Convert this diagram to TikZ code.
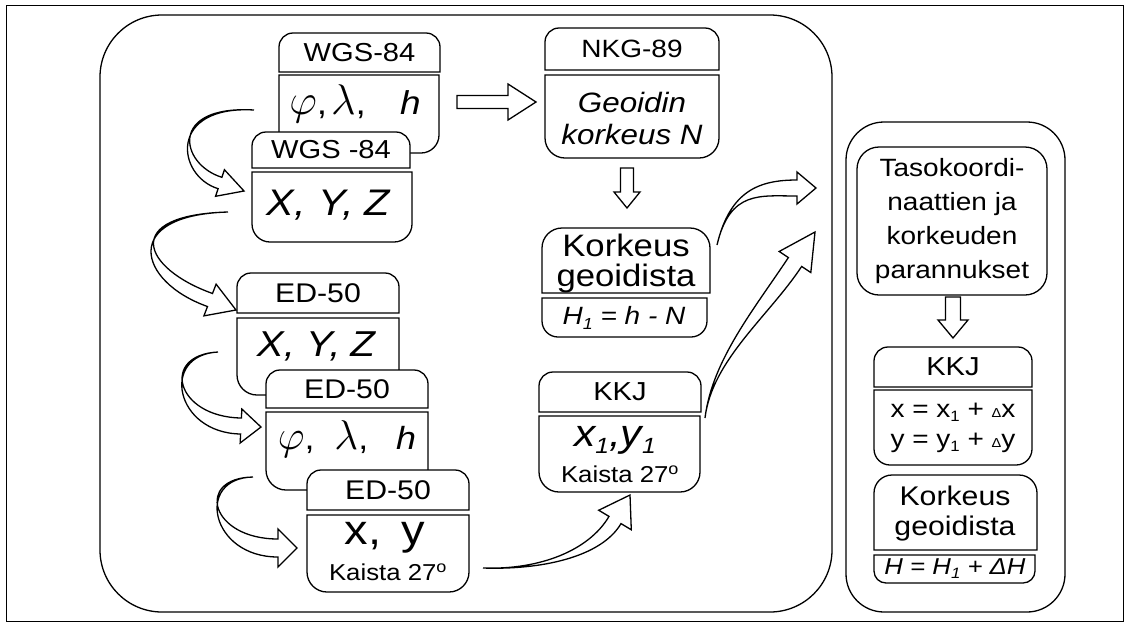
\RequirePackage{fix-cm}
\documentclass[tikz,border=0pt]{standalone}
\usepackage{fontspec}
\setmainfont{Liberation Sans}[FakeStretch=1.12]
\usetikzlibrary{calc}
\newcommand\fsz[1]{\fontsize{#1}{#1}\selectfont}
\newcommand\fszb[2]{\fontsize{#1}{#2}\selectfont}
\newcommand\gphi{\scalebox{1.3}{$\varphi$}}
\newcommand\glam{\scalebox{1.3}{$\lambda$}}
% top-rounded box: x1 y1 x2 y2 r  (pixel coords, y downwards)
\newcommand\mkhead[5]{\draw[fill=white] (#1,-#4) -- (#1,-#2-#5) arc[start angle=180,end angle=90,radius=#5] -- (#3-#5,-#2) arc[start angle=90,end angle=0,radius=#5] -- (#3,-#4) -- cycle;}
% bottom-rounded box
\newcommand\mkbody[5]{\draw[fill=white] (#1,-#2) -- (#3,-#2) -- (#3,-#4+#5) arc[start angle=0,end angle=-90,radius=#5] -- (#1+#5,-#4) arc[start angle=270,end angle=180,radius=#5] -- cycle;}
% curved hollow arrow: tail, c1, c2, base, tip, shaft half width, head half width
\newcommand\curvearr[7]{%
  \coordinate (ca1) at ($(#4)!#6!90:(#5)$);
  \coordinate (ca2) at ($(#4)!#6!-90:(#5)$);
  \coordinate (ch1) at ($(#4)!#7!90:(#5)$);
  \coordinate (ch2) at ($(#4)!#7!-90:(#5)$);
  \draw[fill=white,line join=miter] (#1) .. controls (#2) and ($(#3)+(ca1)-(#4)$) .. (ca1) -- (ch1) -- (#5) -- (ch2) -- (ca2) .. controls ($(#3)+(ca2)-(#4)$) and (#2) .. (#1) -- cycle;}
% straight block arrow: from, to, shaft half, head half, head length
\newcommand\blockarr[5]{%
  \coordinate (bab) at ($(#2)!#5!(#1)$);
  \draw[fill=white,line join=miter] ($(#1)!#3!90:(#2)$) -- ($(bab)!#3!-90:(#1)$) -- ($(bab)!#4!-90:(#1)$) -- (#2) -- ($(bab)!#4!90:(#1)$) -- ($(bab)!#3!90:(#1)$) -- ($(#1)!#3!-90:(#2)$) -- cycle;}
\begin{document}
\begin{tikzpicture}[x=1pt,y=1pt,line width=1.3pt,lbl/.style={inner sep=0pt,align=center}]
\useasboundingbox (0,0) rectangle (1129,-630);
\draw[line width=1pt] (6,-5) rectangle (1123,-621);
\draw[rounded corners=62pt] (100,-15) rectangle (832,-612);
\draw[rounded corners=38pt] (846,-122) rectangle (1065,-612);

% ---- left column ----
\mkhead{279}{33}{440}{72}{14}
\node[lbl,font=\fsz{26}] (wgs1h) at (359.5,-53) {WGS-84};
\mkbody{279}{75}{439}{153}{18}
\node[lbl,font=\fsz{33}] (wgs1b) at (355,-104) {\gphi,\hspace{4pt}\glam,\hspace{34pt}\itshape h};

\mkhead{252}{132}{410}{168}{14}
\node[lbl,font=\fsz{26}] (wgs2h) at (331,-150) {WGS -84};
\mkbody{252}{172}{412}{242}{18}
\node[lbl,font={\fsz{37}\itshape}] (wgs2b) at (328,-205) {X,\hspace{13pt}Y,\hspace{10pt}Z};

\mkhead{237}{273}{399}{313}{14}
\node[lbl,font=\fsz{27}] (ed1h) at (318,-293) {ED-50};
\mkbody{237}{318}{399}{395}{20}
\node[lbl,font={\fsz{36}\itshape}] (ed1b) at (316,-346) {X,\hspace{11pt}Y,\hspace{10pt}Z};

\mkhead{266}{370}{428}{408}{14}
\node[lbl,font=\fsz{27}] (ed2h) at (347,-389) {ED-50};
\mkbody{266}{412}{428}{490}{20}
\node[lbl,font=\fsz{32}] (ed2b) at (347,-439) {\gphi,\hspace{20pt}\glam,\hspace{28pt}\itshape h};

\mkhead{307}{470}{469}{510}{14}
\node[lbl,font=\fsz{27}] (ed3h) at (388,-490) {ED-50};
\mkbody{307}{515}{469}{592}{20}
\node[lbl,font=\fsz{42}] (ed3b) at (385,-538) {x,\hspace{20pt}y};
\node[lbl,font=\fsz{23}] (ed3k) at (388,-572) {Kaista 27\textsuperscript{o}};

% ---- middle column ----
\mkhead{545}{28}{719}{70}{14}
\node[lbl,font=\fsz{25}] (nkgh) at (632,-49) {NKG-89};
\mkbody{545}{75}{719}{158}{20}
\node[lbl,font={\fszb{28}{32}\itshape}] (nkgb) at (632,-118) {Geoidin\\ korkeus N};

\mkhead{542}{228}{710}{293}{20}
\node[lbl,font=\fszb{31}{30}] (korm) at (626,-263) {Korkeus\\ geoidista};
\mkbody{542}{298}{707}{337}{16}
\node[lbl,font={\fsz{25}\itshape}] (korf) at (624,-318) {H\raisebox{-5pt}{\fsz{16}1} = h - N};

\mkhead{539}{372}{701}{412}{14}
\node[lbl,font=\fsz{26}] (kkjh) at (620,-392) {KKJ};
\mkbody{539}{416}{700}{492}{20}
\node[lbl,font={\fsz{38}\itshape}] (kkjb) at (615,-440) {x\raisebox{-7pt}{\fsz{22}1},y\raisebox{-7pt}{\fsz{22}1}};
\node[lbl,font=\fsz{23}] (kkjk) at (620,-474) {Kaista 27\textsuperscript{o}};

% ---- right panel ----
\draw[fill=white,rounded corners=22pt] (857,-147) rectangle (1047,-295);
\node[lbl,font=\fszb{25}{34}] (taso) at (952,-221) {Tasokoordi-\\ naattien ja\\ korkeuden\\ parannukset};

\mkhead{874}{347}{1032}{387}{14}
\node[lbl,font=\fsz{26}] (kkjrh) at (953,-367) {KKJ};
\mkbody{874}{390}{1032}{465}{16}
\node[lbl,font=\fszb{25}{30}] (kkjrb) at (953,-428) {x = x\raisebox{-4pt}{\fsz{15}1} + {\fsz{13}Δ}x\\ y = y\raisebox{-4pt}{\fsz{15}1} + {\fsz{13}Δ}y};

\mkhead{874}{475}{1037}{550}{18}
\node[lbl,font=\fszb{27}{30}] (korr) at (955,-514) {Korkeus\\ geoidista};
\mkbody{874}{555}{1035}{583}{12}
\node[lbl,font={\fsz{23}\itshape}] (korrf) at (955,-569) {H = H\raisebox{-4pt}{\fsz{15}1} + ΔH};

% ---- straight block arrows ----
\coordinate (r1a) at (457,-102); \coordinate (r1b) at (536,-102);
\blockarr{r1a}{r1b}{6.5pt}{18pt}{28pt}
\coordinate (r2a) at (627,-168); \coordinate (r2b) at (627,-208);
\blockarr{r2a}{r2b}{6.5pt}{13pt}{16pt}
\coordinate (r3a) at (953,-297); \coordinate (r3b) at (953,-338);
\blockarr{r3a}{r3b}{7.5pt}{15pt}{18pt}

% ---- curved hollow arrows ----
\coordinate (a1t) at (254,-110); \coordinate (a1c) at (168,-105); \coordinate (a1d) at (178,-170);
\coordinate (a1b) at (220,-183); \coordinate (a1p) at (244,-191);
\curvearr{a1t}{a1c}{a1d}{a1b}{a1p}{6pt}{14pt}
\coordinate (a2t) at (228,-212); \coordinate (a2c) at (120,-215); \coordinate (a2d) at (140,-275);
\coordinate (a2b) at (210,-300); \coordinate (a2p) at (236,-310);
\curvearr{a2t}{a2c}{a2d}{a2b}{a2p}{7pt}{17pt}
\coordinate (a3t) at (218,-352); \coordinate (a3c) at (160,-355); \coordinate (a3d) at (175,-425);
\coordinate (a3b) at (241,-426); \coordinate (a3p) at (261,-427);
\curvearr{a3t}{a3c}{a3d}{a3b}{a3p}{8pt}{17pt}
\coordinate (a4t) at (253,-477); \coordinate (a4c) at (195,-478); \coordinate (a4d) at (210,-548);
\coordinate (a4b) at (278,-548); \coordinate (a4p) at (297,-548);
\curvearr{a4t}{a4c}{a4d}{a4b}{a4p}{9pt}{19pt}
\coordinate (a5t) at (483,-568); \coordinate (a5c) at (540,-570); \coordinate (a5d) at (595,-554);
\coordinate (a5b) at (615,-520); \coordinate (a5p) at (630,-495);
\curvearr{a5t}{a5c}{a5d}{a5b}{a5p}{7pt}{19pt}
\coordinate (a6t) at (717,-245); \coordinate (a6c) at (730,-190); \coordinate (a6d) at (760,-188);
\coordinate (a6b) at (797,-188); \coordinate (a6p) at (816,-188);
\curvearr{a6t}{a6c}{a6d}{a6b}{a6p}{8pt}{16pt}
\coordinate (a7t) at (705,-418); \coordinate (a7c) at (712,-360); \coordinate (a7d) at (762,-312);
\coordinate (a7b) at (795,-262); \coordinate (a7p) at (815,-232);
\curvearr{a7t}{a7c}{a7d}{a7b}{a7p}{8pt}{19pt}
\end{tikzpicture}
\end{document}
